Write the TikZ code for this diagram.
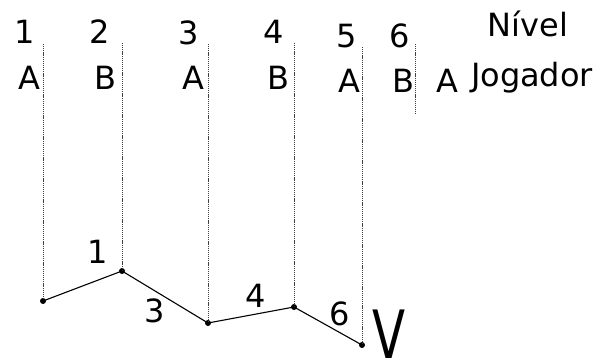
\documentclass[tikz,border=0pt]{standalone}
\usepackage{fontspec}
\usepackage{graphicx}
\setmainfont{DejaVu Sans}
\begin{document}
\begin{tikzpicture}[x=1pt,y=-1pt,
  lbl/.style={font=\fontsize{32}{34}\selectfont, inner sep=0pt, anchor=base},
  guide/.style={draw=black!75, line width=0.7pt, dash pattern=on 1.2pt off 0.9pt},
  seg/.style={draw=black, line width=1.1pt},
  pt/.style={circle, fill=black, inner sep=0pt, minimum size=6pt}]
\useasboundingbox (0,0) rectangle (610,358);
% points
\node[pt] (p1) at (43,301) {};
\node[pt] (p2) at (122,271) {};
\node[pt] (p3) at (208,323) {};
\node[pt] (p4) at (294,307) {};
\node[pt] (p5) at (362,345) {};
% top ends of guides
\coordinate (t1) at (43,44);
\coordinate (t2) at (122,43);
\coordinate (t3) at (208,44);
\coordinate (t4) at (294,43);
\coordinate (t5) at (362,47);
\coordinate (t6) at (415,44);
\coordinate (b6) at (415,115);
\draw[guide] (t1) -- (p1.center);
\draw[guide] (t2) -- (p2.center);
\draw[guide] (t3) -- (p3.center);
\draw[guide] (t4) -- (p4.center);
\draw[guide] (t5) -- (p5.center);
\draw[guide] (t6) -- (b6);
\draw[seg] (p1.center) -- (p2.center) -- (p3.center) -- (p4.center) -- (p5.center);
% level numbers
\node[lbl] (n1) at (25,44) {1};
\node[lbl] (n2) at (100,44) {2};
\node[lbl] (n3) at (189,45) {3};
\node[lbl] (n4) at (274,44) {4};
\node[lbl] (n5) at (347,48) {5};
\node[lbl] (n6) at (400,48) {6};
\node[lbl] (niv) at (528,37) {Nível};
% players
\node[lbl] (a1) at (29,90) {A};
\node[lbl] (b2) at (105,90) {B};
\node[lbl] (a3) at (193,90) {A};
\node[lbl] (b4) at (278,90) {B};
\node[lbl] (a5) at (349,93) {A};
\node[lbl] (b6l) at (403,93) {B};
\node[lbl] (a7) at (447,93) {A};
\node[lbl] (jog) at (532,87) {Jogador};
% edge values
\node[lbl] (e1) at (98,263) {1};
\node[lbl] (e3) at (155,322) {3};
\node[lbl] (e4) at (256,307) {4};
\node[lbl] (e6) at (340,325) {6};
\node[font=\fontsize{68}{70}\selectfont, inner sep=0pt, anchor=base] (v) at (389,359) {\scalebox{0.71}[1]{V}};
\end{tikzpicture}
\end{document}
